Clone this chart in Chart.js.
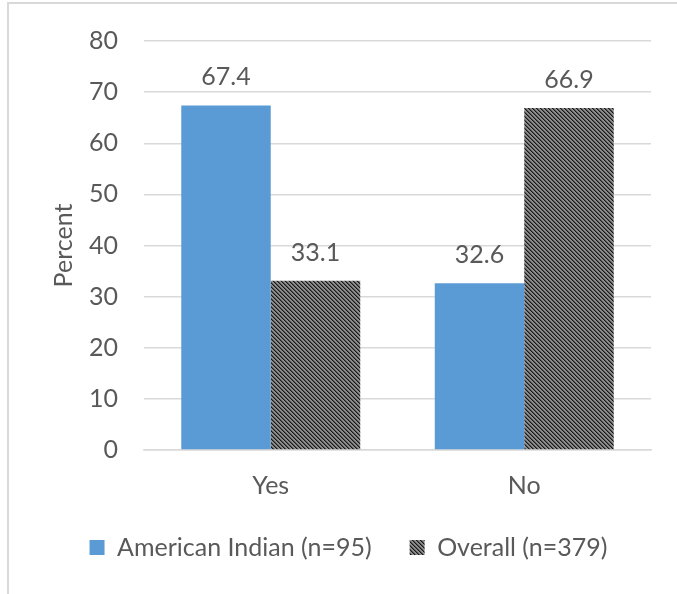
<!DOCTYPE html>
<html>
<head>
<meta charset="utf-8">
<script src="https://cdn.jsdelivr.net/npm/chart.js@4/dist/chart.umd.min.js"></script>
<style>
  html, body { margin: 0; padding: 0; background: #fff; }
  #frame {
    position: absolute; left: 7px; top: 2px; width: 720px; height: 640px;
    border: 2px solid #d9d9d9; box-sizing: border-box;
  }
  #wrap { position: absolute; left: 0; top: 0; width: 677px; height: 594px; }
</style>
</head>
<body>
<div id="frame"></div>
<div id="wrap"><canvas id="chart" width="677" height="594"></canvas></div>
<script>
const categories = ["Yes", "No"];
const americanIndian = [67.4, 32.6];
const overall = [33.1, 66.9];
const seriesNames = ["American Indian (n=95)", "Overall (n=379)"];
const yTicks = [0, 10, 20, 30, 40, 50, 60, 70, 80];

const textColor = "#595959";
const fontFamily = "Lato, 'Open Sans', sans-serif";

// dithered diagonal fill like the office pattern
function makePattern() {
    const c = document.createElement("canvas");
    c.width = 4;
    c.height = 4;
    const g = c.getContext("2d");
    const shades = ["#181818", "#555555", "#f5f5f5", "#8c8c8c"];
    for (let y = 0; y < 4; y++) {
        for (let x = 0; x < 4; x++) {
            let v = ((x - y) % 4 + 4) % 4;
            if ((x + y) % 2 === 0 && v === 2) v = 3;
            g.fillStyle = shades[v];
            g.fillRect(x, y, 1, 1);
        }
    }
    return g.createPattern(c, "repeat");
}
const hatch = makePattern();

const barLabels = {
    id: "barLabels",
    afterDatasetsDraw(chart) {
        const ctx = chart.ctx;
        ctx.save();
        ctx.font = "25px " + fontFamily;
        ctx.fillStyle = textColor;
        ctx.textAlign = "center";
        ctx.textBaseline = "middle";
        chart.data.datasets.forEach((ds, i) => {
            chart.getDatasetMeta(i).data.forEach((bar, j) => {
                ctx.fillText(ds.data[j].toFixed(1), bar.x, bar.y - 28);
            });
        });
        ctx.restore();
    }
};

new Chart(document.getElementById("chart"), {
    type: "bar",
    plugins: [barLabels],
    data: {
        labels: categories,
        datasets: [
            {
                label: seriesNames[0],
                data: americanIndian,
                backgroundColor: "#5b9bd5",
                categoryPercentage: 0.706,
                barPercentage: 1.0,
            },
            {
                label: seriesNames[1],
                data: overall,
                backgroundColor: hatch,
                categoryPercentage: 0.706,
                barPercentage: 1.0,
            },
        ],
    },
    options: {
        responsive: false,
        animation: false,
        layout: { padding: { left: 46, right: 26, top: 38, bottom: 24 } },
        plugins: {
            tooltip: { enabled: false },
            legend: {
                position: "bottom",
                labels: {
                    color: textColor,
                    font: { family: fontFamily, size: 25 },
                    boxWidth: 15,
                    boxHeight: 15,
                    padding: 38,
                },
            },
        },
        scales: {
            x: {
                grid: { display: false },
                border: { display: true, color: "#d9d9d9", width: 1.5 },
                ticks: { color: textColor, font: { family: fontFamily, size: 25 }, padding: 13 },
                afterFit: (s) => { s.height = 47; },
            },
            y: {
                min: 0,
                max: 80,
                afterBuildTicks: (s) => { s.ticks = yTicks.map((v) => ({ value: v })); },
                grid: { color: "#d9d9d9", lineWidth: 1.5, drawTicks: false },
                border: { display: false },
                ticks: { color: textColor, font: { family: fontFamily, size: 25 }, padding: 26 },
                title: {
                    display: true,
                    text: "Percent",
                    color: textColor,
                    font: { family: fontFamily, size: 25 },
                    padding: 3,
                },
                afterFit: (s) => { s.width = 98; },
            },
        },
    },
});
</script>
</body>
</html>
